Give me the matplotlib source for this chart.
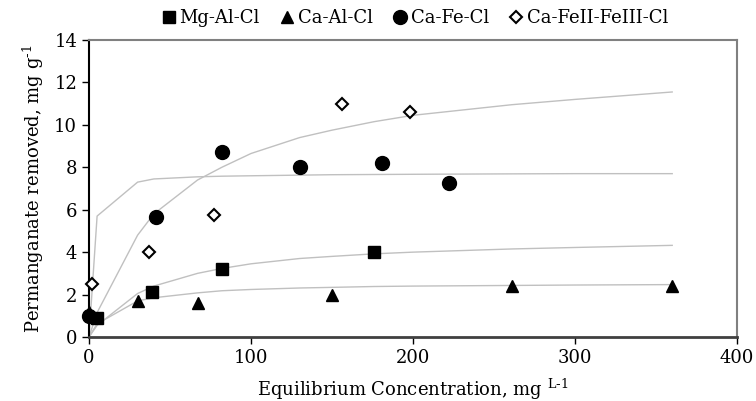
import matplotlib
matplotlib.use("Agg")
import matplotlib.pyplot as plt

# --- measured points ---
mg_al_x = [5, 39, 82, 176]
mg_al_y = [0.9, 2.1, 3.2, 4.0]

ca_al_x = [0, 30, 67, 150, 261, 360]
ca_al_y = [1.2, 1.7, 1.6, 2.0, 2.4, 2.4]

ca_fe_x = [0, 41.5, 82, 130, 181, 222]
ca_fe_y = [1.0, 5.65, 8.7, 8.0, 8.2, 7.25]

ca_fe23_x = [2, 37, 77, 156, 198]
ca_fe23_y = [2.5, 4.0, 5.75, 11.0, 10.6]

# --- fitted curves ---
fit_x = [0, 5, 30, 40, 67, 82, 100, 130, 150, 176, 200, 261, 300, 360]
fit_ca_fe = [0, 5.7, 7.3, 7.45, 7.55, 7.58, 7.6, 7.63, 7.65, 7.66, 7.67, 7.69, 7.7, 7.7]
fit_ca_fe23 = [0, 1.15, 4.8, 5.8, 7.4, 8.0, 8.65, 9.4, 9.75, 10.15, 10.45, 10.95, 11.2, 11.55]
fit_mg_al = [0, 0.55, 2.05, 2.4, 3.0, 3.23, 3.45, 3.7, 3.8, 3.92, 4.0, 4.15, 4.22, 4.32]
fit_ca_al = [0, 0.62, 1.7, 1.85, 2.08, 2.18, 2.24, 2.31, 2.34, 2.38, 2.4, 2.43, 2.45, 2.47]

plt.rcParams['font.family'] = ['DejaVu Serif']
plt.rcParams['font.size'] = 13

fig = plt.figure(figsize=(7.56, 4.01), dpi=100)
ax = fig.add_axes([89/756, 1-337/401, (737-89)/756, (337-40)/401])

grey = '#c0c0c0'
for fy in [fit_ca_fe, fit_ca_fe23, fit_mg_al, fit_ca_al]:
    ax.plot(fit_x, fy, color=grey, lw=1, zorder=1)

ax.plot(mg_al_x, mg_al_y, 's', color='black', ms=9, label='Mg-Al-Cl', clip_on=False, zorder=3)
ax.plot(ca_al_x, ca_al_y, '^', color='black', ms=9, label='Ca-Al-Cl', clip_on=False, zorder=3)
ax.plot(ca_fe_x, ca_fe_y, 'o', color='black', ms=10, label='Ca-Fe-Cl', clip_on=False, zorder=3)
ax.plot(ca_fe23_x, ca_fe23_y, 'D', mfc='white', mec='black', mew=1.5, ms=6,
        label='Ca-FeII-FeIII-Cl', clip_on=False, zorder=3)

ax.set_xlim(0, 400)
ax.set_ylim(0, 14)
ax.set_xticks([0, 100, 200, 300, 400])
ax.set_yticks(range(0, 15, 2))
ax.tick_params(direction='out', length=5, width=1, labelsize=13)

ax.spines['left'].set_color('black')
ax.spines['left'].set_linewidth(1.5)
ax.spines['bottom'].set_color('#404040')
ax.spines['bottom'].set_linewidth(2)
for s in ['top', 'right']:
    ax.spines[s].set_color('#808080')
    ax.spines[s].set_linewidth(1.5)

ax.set_xlabel('Equilibrium Concentration, mg $^{\\mathregular{L}\\text{-}\\mathregular{1}}$',
              fontsize=13, labelpad=7)
ax.set_ylabel('Permanganate removed, mg g$^{\\text{-}\\mathregular{1}}$', fontsize=13, labelpad=6)

ax.legend(loc='lower center', bbox_to_anchor=(0.5, 1.02), ncol=4, frameon=False,
          fontsize=13, handletextpad=0.0, columnspacing=0.9, handlelength=1.2,
          borderaxespad=0.0)

fig.savefig('out.png', dpi=100)
